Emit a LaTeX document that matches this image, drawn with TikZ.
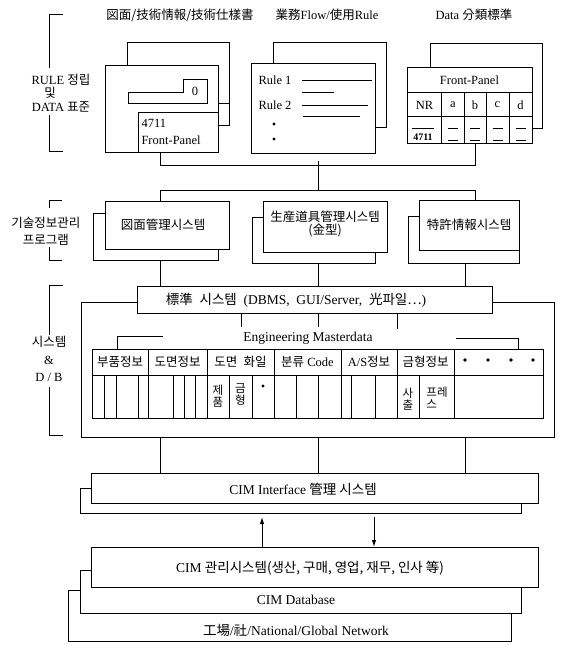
\documentclass[tikz,border=0pt]{standalone}
\usepackage{fontspec}
\setmainfont{Liberation Serif}
\newfontfamily\cjk{Noto Sans CJK KR}
\newcommand{\K}[1]{{\cjk #1}}
\usetikzlibrary{arrows.meta}

\begin{document}
\begin{tikzpicture}[>={Latex[length=7pt,width=4.5pt]}, x=1pt, y=-1pt, line width=1pt,
  box/.style={draw, fill=white, inner sep=0pt, outer sep=0pt, anchor=north west},
  txt/.style={inner sep=0pt, font=\fontsize{12.5}{14}\selectfont},
  big/.style={inner sep=0pt, font=\fontsize{13.5}{15}\selectfont},
  head/.style={inner sep=0pt, font=\fontsize{12.5}{14}\selectfont},
  cell/.style={inner sep=0pt, font=\fontsize{11.5}{12}\selectfont, align=left}]
  \useasboundingbox (0,0) rectangle (561,645);

  % headers over the three panels
  \node[head] (t1) at (180,15) {\K{図面/技術情報/技術仕樣書}};
  \node[head] (t2) at (327,15) {\K{業務}Flow/\K{使用}Rule};
  \node[head] (t3) at (474,15) {Data \K{分類標準}};

  % left labels and brackets
  \node[txt] (l1) at (61,80) {RULE \K{정립}};
  \node[txt] (l2) at (50,93) {\K{및}};
  \node[txt] (l3) at (61,107) {DATA \K{표준}};
  \node[txt] (l4) at (46,223) {\K{기술정보관리}};
  \node[txt] (l5) at (46,240) {\K{프로그램}};
  \node[txt] (l6) at (49,342) {\K{시스템}};
  \node[txt] (l7) at (49,360) {\&};
  \node[txt] (l8) at (49,377) {D / B};
  \draw (63,14) -- (49,14) -- (49,68);
  \draw (49,115) -- (49,151) -- (63,151);
  \draw (62,200) -- (49,200) -- (49,208);
  \draw (49,247) -- (49,260) -- (62,260);
  \draw (63,285) -- (49,285) -- (49,335);
  \draw (49,387) -- (49,435) -- (63,435);

  % panel 1
  \node[box, minimum width=102pt, minimum height=83pt] (p1b) at (127,42) {};
  \node[box, minimum width=113pt, minimum height=87pt] (p1) at (105,65) {};
  \draw (218,103) -- (229,103);
  \draw (128,92) -- (183,92) -- (183,79) -- (207,79) -- (207,103) -- (128,103) -- cycle;
  \node[txt] (zero) at (195,91) {0};
  \node[box, minimum width=80pt, minimum height=40pt] (p1i) at (138,112) {};
  \node[txt, anchor=west] (n4711) at (141,123) {4711};
  \node[txt, anchor=west] (fp1) at (141,140) {Front-Panel};

  % panel 2
  \node[box, minimum width=113pt, minimum height=85pt] (p2b) at (273,42) {};
  \node[box, minimum width=124pt, minimum height=90pt] (p2) at (251,63) {};
  \node[txt, anchor=west] (r1) at (258,80) {Rule 1};
  \node[txt, anchor=west] (r2) at (258,105) {Rule 2};
  \draw (302,80) -- (372,80);
  \draw (302,92) -- (334,92);
  \draw (302,105) -- (368,105);
  \draw (303,116) -- (360,116);
  \fill (274,124) circle (1.6pt) (274,139) circle (1.6pt);

  % panel 3
  \node[box, minimum width=112pt, minimum height=85pt] (p3b) at (430,43) {};
  \node[box, minimum width=125pt, minimum height=76pt] (p3) at (407,67) {};
  \draw (407,92.7) -- (532,92.7) (407,116.7) -- (532,116.7);
  \foreach \x in {441.7,464,486,509.3} \draw (\x,92.7) -- (\x,143);
  \node[txt] (fp3) at (469.5,80) {Front-Panel};
  \node[txt] (nr) at (424.5,105) {NR};
  \foreach \x/\c in {453/a,475/b,497.5/c,520.5/d}
    \node[txt] (col\c) at (\x,105) {\c};
  \draw (412,128.3) -- (434,128.3);
  \node[cell, font=\fontsize{10}{11}\selectfont\bfseries] (nr4711) at (423,137) {4711};
  \foreach \x in {453,475,497.5,520.5}
    \draw ({\x-5},128) -- ({\x+5},128) ({\x-5},140) -- ({\x+5},140);

  % bus between panels and programs
  \coordinate (b1l) at (160,165);
  \coordinate (b1r) at (475,165);
  \coordinate (b1t) at (318,161);
  \coordinate (b2l) at (160,190);
  \coordinate (b2m) at (318,190);
  \coordinate (b2r) at (475,190);
  \coordinate (c3) at (465,280);
  \draw (p1i.south -| b1l) -- (b1l) -- (b1r) -- (p3.south -| b1r);
  \draw (b1t) -- (b2m);

  % programs
  \node[box, minimum width=125pt, minimum height=47pt] (sab) at (93,213) {};
  \node[box, minimum width=124pt, minimum height=48pt] (sa) at (105,201) {};
  \node[box, minimum width=123pt, minimum height=46pt] (sbb) at (252,217) {};
  \node[box, minimum width=124pt, minimum height=51pt] (sb) at (263,201) {};
  \node[box, minimum width=111pt, minimum height=47pt] (scb) at (408,216) {};
  \node[box, minimum width=100pt, minimum height=50pt] (sc) at (419,200) {};
  \node[txt] (sat) at (163,225) {\K{図面管理시스템}};
  \node[txt, align=center] (sbt) at (325,224) {\K{生産道具管理시스템}\\[-1pt]\K{(金型)}};
  \node[txt] (sct) at (469,225) {\K{特許情報시스템}};
  \draw (sa.north -| b2l) -- (b2l) -- (b2r) -- (sc.north -| b2r);

  % system and D/B
  \node[draw, inner sep=0pt, anchor=north west, minimum width=473pt, minimum height=135pt] (db) at (81,302) {};
  \node[box, minimum width=355pt, minimum height=27pt] (std) at (137,286) {};
  \node[big] (stdt) at (296,300) {\K{標準}\ \ \K{시스템}\ \ (DBMS,\ \ GUI/Server,\ \ \K{光파일…})};
  \draw (sab.south -| b2l) -- (std.north -| b2l);
  \draw (sbb.south -| b2m) -- (std.north -| b2m);
  \draw (scb.south -| c3) -- (std.north -| c3);
  \coordinate (k1) at (241,327);
  \coordinate (k2) at (318,327);
  \coordinate (k3) at (397,329);
  \foreach \k in {k1,k2,k3} \draw (std.south -| \k) -- (\k);

  % engineering masterdata
  \node[big] (emt) at (308,338) {Engineering Masterdata};
  \node[draw, inner sep=0pt, anchor=north west, minimum width=451pt, minimum height=69pt] (em) at (92,349) {};
  \coordinate (eml) at (117,336);
  \coordinate (emr) at (518,338);
  \draw (em.north -| eml) -- (eml) -- ++(46,0);
  \draw (emr) ++(-62,0) -- (emr) -- (em.north -| emr);
  \draw (92,375.5) -- (543,375.5);
  \foreach \x in {148,207,274,341,397,454} \draw (\x,349) -- (\x,418);
  \foreach \x in {104,116,138,173,184,195,229,252,296,318.5,351,375,419}
    \draw (\x,375.5) -- (\x,418);
  \foreach \x/\t [count=\i] in {120/{\K{부품정보}},177.5/{\K{도면정보}},
      240.5/{\K{도면}\enspace\K{화일}},307.5/{\K{분류} Code},369/{A/S\K{정보}},425.5/{\K{금형정보}}}
    \node[txt] (h\i) at (\x,362) {\t};
  \foreach \x in {465,488,511,533} \fill (\x,360) circle (1.8pt);
  \node[cell] (c1) at (218,396) {\K{제}\\\K{품}};
  \node[cell] (c2) at (240.5,394) {\K{금}\\\K{형}};
  \fill (263,386) circle (1.6pt);
  \node[cell] (c3t) at (408,399) {\K{사}\\\K{출}};
  \node[cell] (c4) at (437,398) {\K{프레}\\\K{스}};

  % CIM interface
  \node[box, minimum width=441pt, minimum height=25pt] (cib) at (80,488) {};
  \node[box, minimum width=447pt, minimum height=30pt] (ci) at (91,473) {};
  \node[big] (cit) at (303,489) {CIM Interface \K{管理 시스템}};
  \draw (db.south -| b2l) -- (ci.north -| b2l);
  \draw (db.south -| b2m) -- (ci.north -| b2m);
  \draw (db.south -| c3) -- (ci.north -| c3);

  % CIM management stack
  \node[box, minimum width=443pt, minimum height=51pt] (net) at (68,590) {};
  \node[box, minimum width=441pt, minimum height=43pt] (cdb) at (80,570) {};
  \node[box, minimum width=447pt, minimum height=40pt] (cim) at (91,547) {};
  \node[big] (cimt) at (310,568) {CIM \K{관리시스템(생산, 구매, 영업, 재무, 인사 等)}};
  \node[big] (cdbt) at (296,600) {CIM Database};
  \node[big] (nett) at (296,630) {\K{工場}/\K{社}/National/Global Network};
  \coordinate (ua) at (262,517);
  \coordinate (da) at (374,517);
  \draw[->] (cim.north -| ua) -- (ua);
  \draw[->] (da) -- (cim.north -| da);
\end{tikzpicture}
\end{document}
